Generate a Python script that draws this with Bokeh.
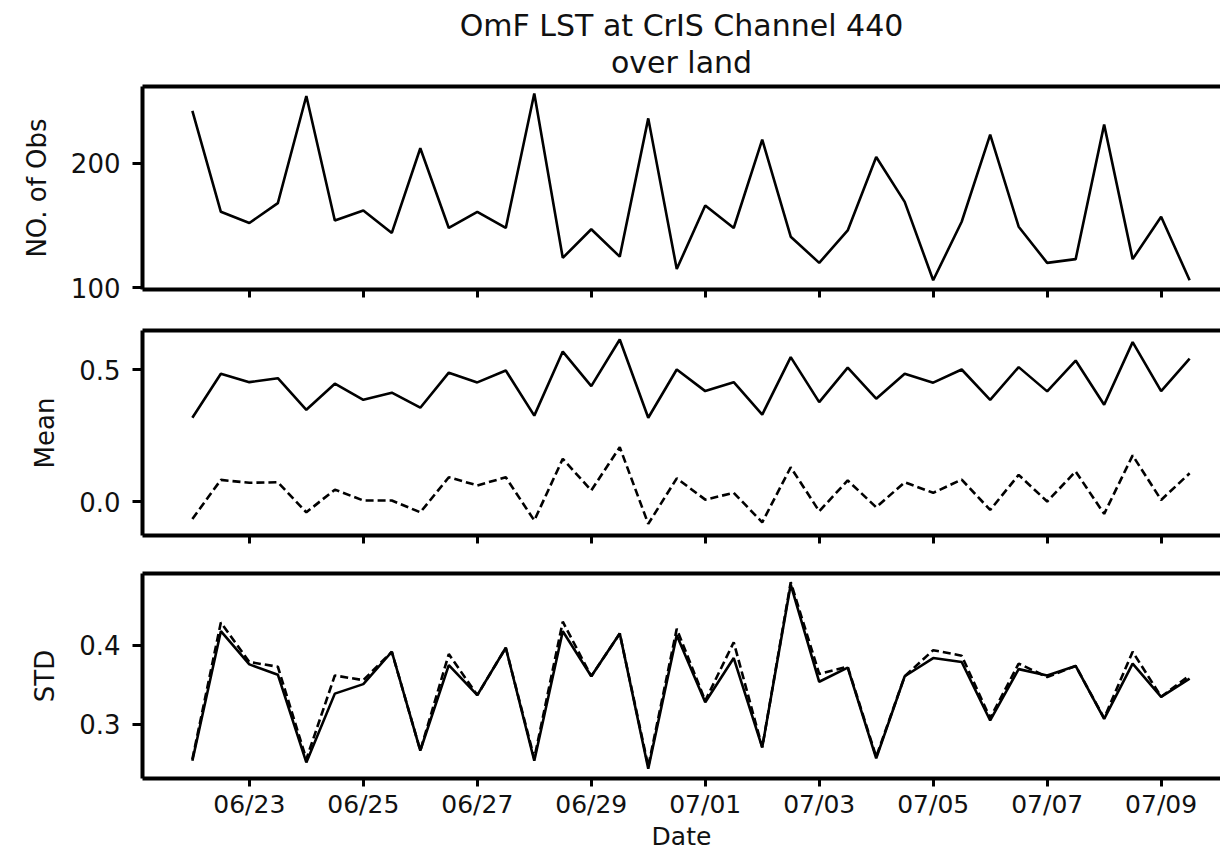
import pandas as pd
from bokeh.plotting import figure
from bokeh.models import (Range1d, FixedTicker, DatetimeTickFormatter, PrintfTickFormatter,
                          LinearAxis, Title, CustomJSTickFormatter)
from bokeh.layouts import column
from bokeh.embed import file_html
from bokeh.resources import INLINE

dates = pd.date_range("2022-06-22 00:00", periods=36, freq="12h")
tick_dates = ["2022-06-23", "2022-06-25", "2022-06-27", "2022-06-29", "2022-07-01",
              "2022-07-03", "2022-07-05", "2022-07-07", "2022-07-09"]

n_obs = [242, 161, 152, 168, 254, 154, 162, 144, 212, 148, 161, 148, 256, 124, 147, 125, 236, 115,
         166, 148, 219, 141, 120, 146, 205, 169, 106, 153, 223, 149, 120, 123, 231, 123, 157, 106]
mean_omf = [0.318, 0.485, 0.453, 0.468, 0.348, 0.447, 0.386, 0.413, 0.356, 0.489, 0.452, 0.497,
            0.326, 0.569, 0.438, 0.615, 0.318, 0.501, 0.419, 0.453, 0.330, 0.548, 0.377, 0.508,
            0.390, 0.485, 0.451, 0.501, 0.386, 0.510, 0.418, 0.535, 0.367, 0.605, 0.419, 0.542]
mean_oma = [-0.066, 0.082, 0.071, 0.073, -0.041, 0.045, 0.004, 0.004, -0.041, 0.092, 0.061, 0.092,
            -0.072, 0.162, 0.042, 0.206, -0.085, 0.088, 0.007, 0.033, -0.079, 0.130, -0.037, 0.080,
            -0.022, 0.073, 0.033, 0.083, -0.032, 0.101, 0.000, 0.114, -0.047, 0.175, 0.006, 0.107]
std_omf = [0.254, 0.418, 0.376, 0.363, 0.252, 0.339, 0.351, 0.392, 0.267, 0.375, 0.337, 0.397,
           0.254, 0.418, 0.361, 0.415, 0.244, 0.413, 0.328, 0.384, 0.271, 0.477, 0.354, 0.372,
           0.257, 0.361, 0.384, 0.379, 0.305, 0.370, 0.362, 0.374, 0.307, 0.377, 0.335, 0.358]
std_oma = [0.256, 0.429, 0.379, 0.373, 0.256, 0.362, 0.356, 0.392, 0.267, 0.389, 0.337, 0.397,
           0.257, 0.430, 0.361, 0.415, 0.247, 0.421, 0.330, 0.404, 0.271, 0.480, 0.364, 0.373,
           0.259, 0.361, 0.394, 0.387, 0.308, 0.377, 0.360, 0.374, 0.308, 0.392, 0.335, 0.362]

title_lines = ["OmF LST at CrIS Channel 440", "over land"]

FONT = "DejaVu Sans"
W = 1220
LINE_W = 2.6
AX_W = 4
DASH = "8 4"
TXT = "#111111"

xr = Range1d(start=dates[0] - pd.Timedelta(hours=21), end=dates[-1] + pd.Timedelta(hours=13))
xticks = [pd.Timestamp(d).value / 1e6 for d in tick_dates]


def make_fig(height, top, bottom, yr, yticks, yfmt, ylabel, show_xlabels):
    p = figure(width=W, height=height, x_axis_type="datetime", x_range=xr, y_range=Range1d(*yr),
               output_backend="svg", toolbar_location=None, min_border_left=142,
               min_border_right=0, min_border_top=top, min_border_bottom=bottom)
    p.outline_line_color = None
    p.grid.visible = False
    p.background_fill_color = "white"
    p.border_fill_color = "white"
    # left axis
    ya = p.yaxis[0]
    ya.ticker = FixedTicker(ticks=yticks)
    ya.formatter = PrintfTickFormatter(format=yfmt)
    ya.axis_label = ylabel
    ya.axis_label_text_font = FONT
    ya.axis_label_text_font_size = "26px"
    ya.axis_label_text_font_style = "normal"
    ya.axis_label_text_color = TXT
    ya.axis_label_standoff = 16
    ya.major_label_text_font = FONT
    ya.major_label_text_font_size = "26px"
    ya.major_label_text_color = TXT
    ya.major_label_standoff = 12
    ya.axis_line_width = AX_W
    ya.major_tick_line_width = 3
    ya.major_tick_out = 10
    ya.major_tick_in = 0
    ya.minor_tick_out = 0
    ya.minor_tick_in = 0
    # bottom axis
    xa = p.xaxis[0]
    xa.ticker = FixedTicker(ticks=xticks)
    xa.axis_line_width = AX_W
    xa.major_tick_line_width = 3
    xa.major_tick_out = 8
    xa.major_tick_in = 0
    xa.minor_tick_out = 0
    xa.minor_tick_in = 0
    xa.major_label_text_font = FONT
    if show_xlabels:
        xa.formatter = DatetimeTickFormatter(days="%m/%d", months="%m/%d", hours="%m/%d")
        xa.major_label_text_font_size = "25px"
        xa.major_label_text_color = TXT
        xa.major_label_standoff = 3
        xa.axis_label = "Date"
        xa.axis_label_text_font = FONT
        xa.axis_label_text_font_size = "25px"
        xa.axis_label_text_font_style = "normal"
        xa.axis_label_text_color = TXT
        xa.axis_label_standoff = 0
    else:
        xa.formatter = CustomJSTickFormatter(code="return ''")
        xa.major_label_standoff = 0
    # top border drawn as an axis without ticks
    ta = LinearAxis(ticker=FixedTicker(ticks=[]), axis_line_width=AX_W,
                    major_tick_out=0, major_tick_in=0, minor_tick_out=0, minor_tick_in=0,
                    major_label_standoff=0)
    p.add_layout(ta, "above")
    return p


p1 = make_fig(309, 86, 20, (98.6, 261.6), [100, 200], "%d", "NO. of Obs", False)
p1.line(dates, n_obs, line_color="black", line_width=LINE_W)
for txt, so in zip(reversed(title_lines), [14, -14]):
    p1.add_layout(Title(text=txt, align="center", text_font=FONT, text_font_size="30px",
                        text_font_style="normal", text_color=TXT, standoff=so), "above")

p2 = make_fig(246, 21, 20, (-0.129, 0.649), [0.0, 0.5], "%.1f", "Mean", False)
p2.line(dates, mean_omf, line_color="black", line_width=LINE_W)
p2.line(dates, mean_oma, line_color="black", line_width=LINE_W, line_dash=DASH)

p3 = make_fig(299, 18, 76, (0.2316, 0.491), [0.3, 0.4], "%.1f", "STD", True)
p3.line(dates, std_omf, line_color="black", line_width=LINE_W)
p3.line(dates, std_oma, line_color="black", line_width=LINE_W, line_dash=DASH)

layout = column(p1, p2, p3, spacing=0)
open("out.html", "w").write(file_html(layout, INLINE))
